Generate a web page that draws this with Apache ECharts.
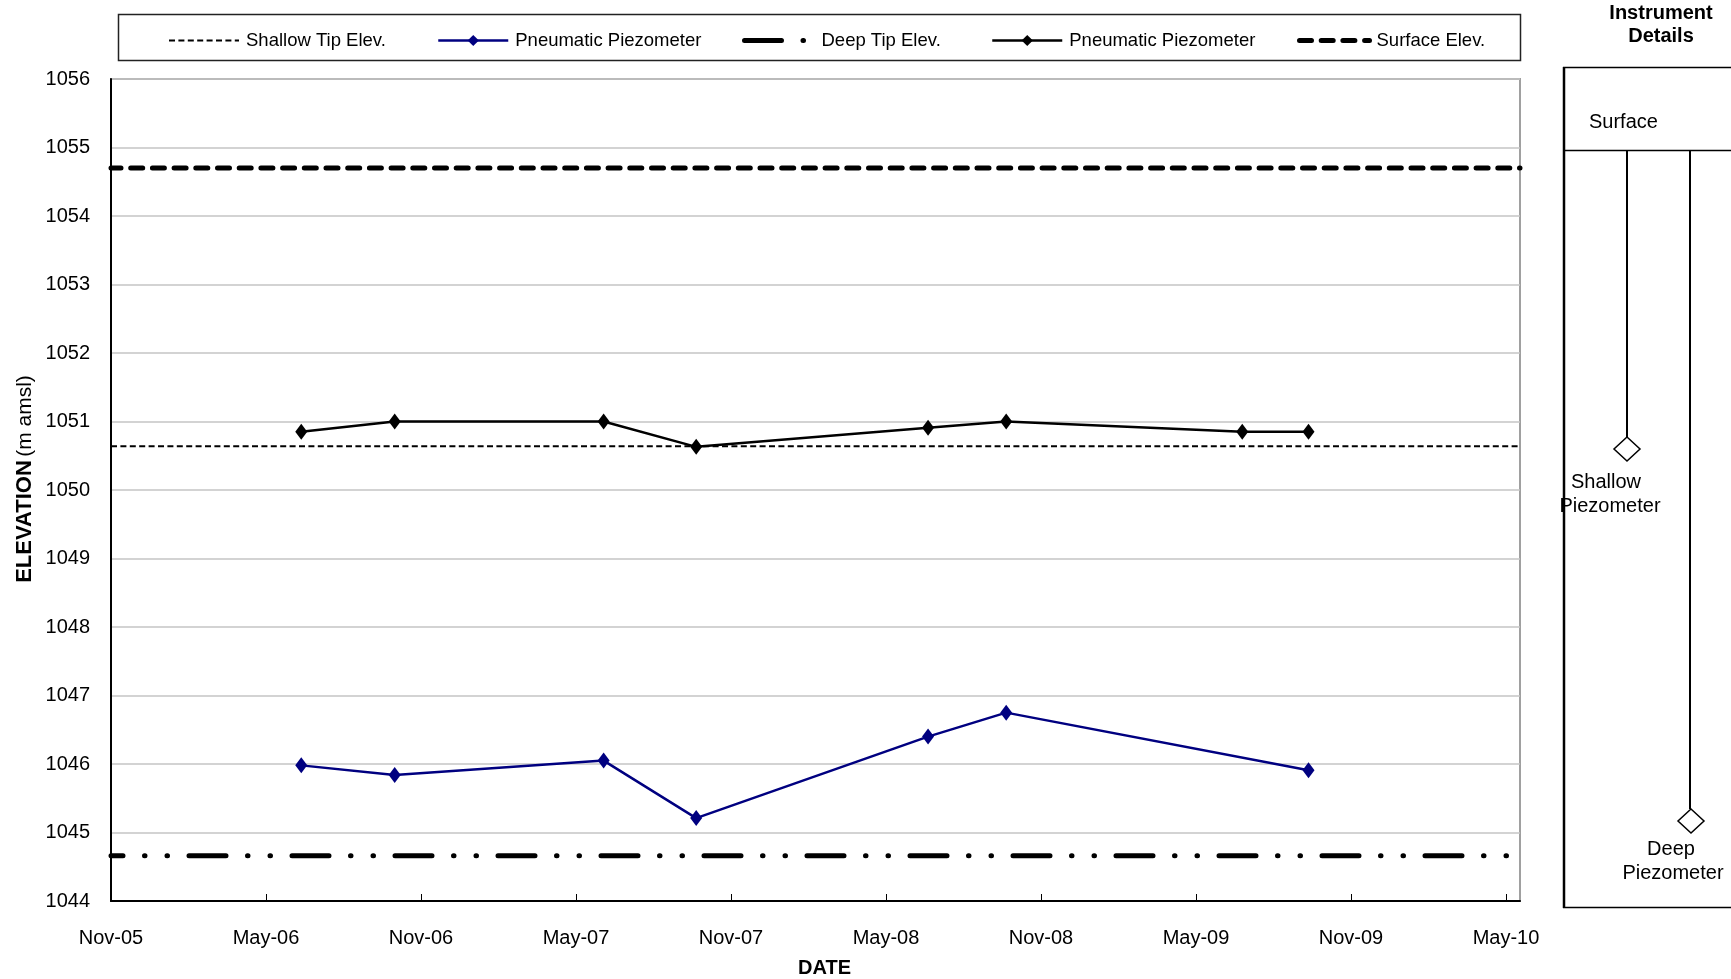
<!DOCTYPE html>
<html>
<head>
<meta charset="utf-8">
<script src="https://cdn.jsdelivr.net/npm/echarts@6/dist/echarts.min.js"></script>
<style>
  html, body { margin: 0; padding: 0; background: #fff; }
  #chart { width: 1731px; height: 979px; }
</style>
</head>
<body>
<div id="chart"></div>
<script>
// ---- data ----
const shallowDates  = ['2006-06-13','2006-10-01','2007-06-04','2007-09-21','2008-06-20','2008-09-20','2009-06-25','2009-09-11'];
const shallowValues = [1050.85, 1051.00, 1051.00, 1050.63, 1050.91, 1051.00, 1050.85, 1050.85];
const deepDates     = ['2006-06-13','2006-10-01','2007-06-04','2007-09-21','2008-06-20','2008-09-20','2009-09-11'];
const deepValues    = [1045.98, 1045.84, 1046.05, 1045.21, 1046.40, 1046.75, 1045.91];
const shallowTipElev = 1050.64;
const deepTipElev    = 1044.66;
const surfaceElev    = 1054.70;
const xAxisStart = '2005-11-01';
const xAxisEnd   = '2010-05-18';
const xTickLabels = ['Nov-05','May-06','Nov-06','May-07','Nov-07','May-08','Nov-08','May-09','Nov-09','May-10'];
const yMin = 1044, yMax = 1056, yStep = 1;
const halfYearDays = 182.5;
const legendNames = ['Shallow Tip Elev.', 'Pneumatic Piezometer', 'Deep Tip Elev.', 'Pneumatic Piezometer ', 'Surface Elev.'];

const FONT = "'Liberation Sans', Arial, sans-serif";
function ymd(s) { const p = s.split('-').map(Number); return Date.UTC(p[0], p[1] - 1, p[2]); }
const BASE = ymd(xAxisStart);
function dayOf(s) { return (ymd(s) - BASE) / 86400000; }
const xMaxDay = dayOf(xAxisEnd);
function pairs(dates, vals) { return dates.map((d, i) => [dayOf(d), vals[i]]); }
function hline(v) { return [[0, v], [xMaxDay, v]]; }

const chart = echarts.init(document.getElementById('chart'), null, { renderer: 'canvas' });

// one legend per entry so each can sit where the reference puts it
const legendLefts = [168, 437, 742, 991, 1297];
const legendExtra = [
  { itemStyle: { opacity: 0 }, lineStyle: { width: 2 } },
  { lineStyle: { width: 2.5 } },
  { itemStyle: { opacity: 0 }, lineStyle: { width: 5, dashOffset: 0 } },
  { lineStyle: { width: 2.5 } },
  { itemStyle: { opacity: 0 }, lineStyle: { width: 5, dashOffset: 0 } }
];
const legends = legendNames.map((n, i) => Object.assign({
  left: legendLefts[i], top: 31, padding: 0,
  itemWidth: 70, itemHeight: 14, itemGap: 0,
  selectedMode: false,
  textStyle: { fontFamily: FONT, fontSize: 18.5, color: '#000', padding: [0, 0, 0, 2] },
  data: [Object.assign({ name: n }, legendExtra[i])]
}));

const option = {
  animation: false,
  backgroundColor: '#fff',
  textStyle: { fontFamily: FONT },
  grid: {
    left: 111, top: 79, width: 1409, height: 822,
    outerBoundsMode: 'none', containLabel: false,
    show: true, borderColor: '#a0a0a0', borderWidth: 2, backgroundColor: 'transparent'
  },
  legend: legends,
  xAxis: {
    type: 'value', min: 0, max: xMaxDay, interval: halfYearDays,
    axisLine: { show: true, lineStyle: { color: '#000', width: 2 } },
    axisTick: { show: true, inside: true, length: 7, lineStyle: { color: '#000', width: 1 } },
    splitLine: { show: false },
    axisLabel: {
      margin: 27, fontSize: 20, color: '#000', fontFamily: FONT,
      showMaxLabel: false,
      formatter: function (v) {
        const k = v / halfYearDays;
        const r = Math.round(k);
        if (Math.abs(k - r) > 0.01) return '';
        return xTickLabels[r] || '';
      }
    },
    name: 'DATE', nameLocation: 'middle', nameGap: 57,
    nameTextStyle: { fontSize: 20, fontWeight: 'bold', color: '#000', fontFamily: FONT, padding: [0, 0, 0, 18] }
  },
  yAxis: {
    type: 'value', min: yMin, max: yMax, interval: yStep,
    axisLine: { show: true, lineStyle: { color: '#000', width: 2 } },
    axisTick: { show: false },
    splitLine: { show: true, lineStyle: { color: '#c4c4c4', width: 1.5 } },
    axisLabel: {
      margin: 21, fontSize: 20, color: '#000', fontFamily: FONT, showMinLabel: true, showMaxLabel: true,
      formatter: function (v) { return String(v); }
    }
  },
  series: [
    {
      name: legendNames[0], type: 'line', data: hline(shallowTipElev),
      symbol: 'none', showSymbol: false, silent: true, z: 2,
      lineStyle: { color: '#000', width: 2, type: [6, 3.4] }
    },
    {
      name: legendNames[1], type: 'line', data: pairs(deepDates, deepValues),
      symbol: 'diamond', symbolSize: [12, 16], showSymbol: true, z: 4,
      itemStyle: { color: '#000080' },
      lineStyle: { color: '#000080', width: 2.5 }
    },
    {
      name: legendNames[2], type: 'line', data: hline(deepTipElev),
      symbol: 'none', showSymbol: false, silent: true, z: 3,
      lineStyle: { color: '#000', width: 5, cap: 'round', type: [37, 21.5, 0.5, 22, 0.5, 21.5], dashOffset: 25 }
    },
    {
      name: legendNames[3], type: 'line', data: pairs(shallowDates, shallowValues),
      symbol: 'diamond', symbolSize: [12, 16], showSymbol: true, z: 4,
      itemStyle: { color: '#000' },
      lineStyle: { color: '#000', width: 2.5 }
    },
    {
      name: legendNames[4], type: 'line', data: hline(surfaceElev),
      symbol: 'none', showSymbol: false, silent: true, z: 3,
      lineStyle: { color: '#000', width: 5, cap: 'round', type: [12, 9.7], dashOffset: 2 }
    }
  ],
  graphic: [
    // legend frame
    { type: 'rect', shape: { x: 118.5, y: 14.5, width: 1402, height: 46 }, z: -1,
      style: { fill: '#fff', stroke: '#222', lineWidth: 1.5 } },
    // y-axis title
    { type: 'text', x: 25, y: 479, rotation: Math.PI / 2, z: 10,
      style: {
        text: '{b|ELEVATION} {r|(m amsl)}', align: 'center', verticalAlign: 'middle',
        rich: {
          b: { fontFamily: FONT, fontSize: 22, fontWeight: 'bold', fill: '#000' },
          r: { fontFamily: FONT, fontSize: 21, fontWeight: 'normal', fill: '#000' }
        }
      } },
    // instrument details panel
    { type: 'text', x: 1661, y: 13, z: 10,
      style: { text: 'Instrument', font: "bold 20px " + FONT, fill: '#000', align: 'center', verticalAlign: 'middle' } },
    { type: 'text', x: 1661, y: 36, z: 10,
      style: { text: 'Details', font: "bold 20px " + FONT, fill: '#000', align: 'center', verticalAlign: 'middle' } },
    { type: 'line', shape: { x1: 1564, y1: 67, x2: 1564, y2: 908 }, style: { stroke: '#000', lineWidth: 2.5 } },
    { type: 'line', shape: { x1: 1563, y1: 67.5, x2: 1731, y2: 67.5 }, style: { stroke: '#000', lineWidth: 1.5 } },
    { type: 'line', shape: { x1: 1563, y1: 907.5, x2: 1731, y2: 907.5 }, style: { stroke: '#000', lineWidth: 1.5 } },
    { type: 'line', shape: { x1: 1563, y1: 150.5, x2: 1731, y2: 150.5 }, style: { stroke: '#000', lineWidth: 1.5 } },
    { type: 'text', x: 1589, y: 122, z: 10,
      style: { text: 'Surface', font: "20px " + FONT, fill: '#000', align: 'left', verticalAlign: 'middle' } },
    { type: 'line', shape: { x1: 1627, y1: 150, x2: 1627, y2: 437 }, style: { stroke: '#000', lineWidth: 2 } },
    { type: 'polygon', shape: { points: [[1627, 437], [1640, 449], [1627, 461], [1614, 449]] },
      style: { fill: '#fff', stroke: '#000', lineWidth: 1.5 } },
    { type: 'text', x: 1606, y: 482, z: 10,
      style: { text: 'Shallow', font: "20px " + FONT, fill: '#000', align: 'center', verticalAlign: 'middle' } },
    { type: 'text', x: 1610, y: 506, z: 10,
      style: { text: 'Piezometer', font: "20px " + FONT, fill: '#000', align: 'center', verticalAlign: 'middle' } },
    { type: 'line', shape: { x1: 1690, y1: 150, x2: 1690, y2: 809 }, style: { stroke: '#000', lineWidth: 2 } },
    { type: 'polygon', shape: { points: [[1691, 809], [1704, 821], [1691, 833], [1678, 821]] },
      style: { fill: '#fff', stroke: '#000', lineWidth: 1.5 } },
    { type: 'text', x: 1671, y: 849, z: 10,
      style: { text: 'Deep', font: "20px " + FONT, fill: '#000', align: 'center', verticalAlign: 'middle' } },
    { type: 'text', x: 1673, y: 873, z: 10,
      style: { text: 'Piezometer', font: "20px " + FONT, fill: '#000', align: 'center', verticalAlign: 'middle' } }
  ]
};
chart.setOption(option);
</script>
</body>
</html>
